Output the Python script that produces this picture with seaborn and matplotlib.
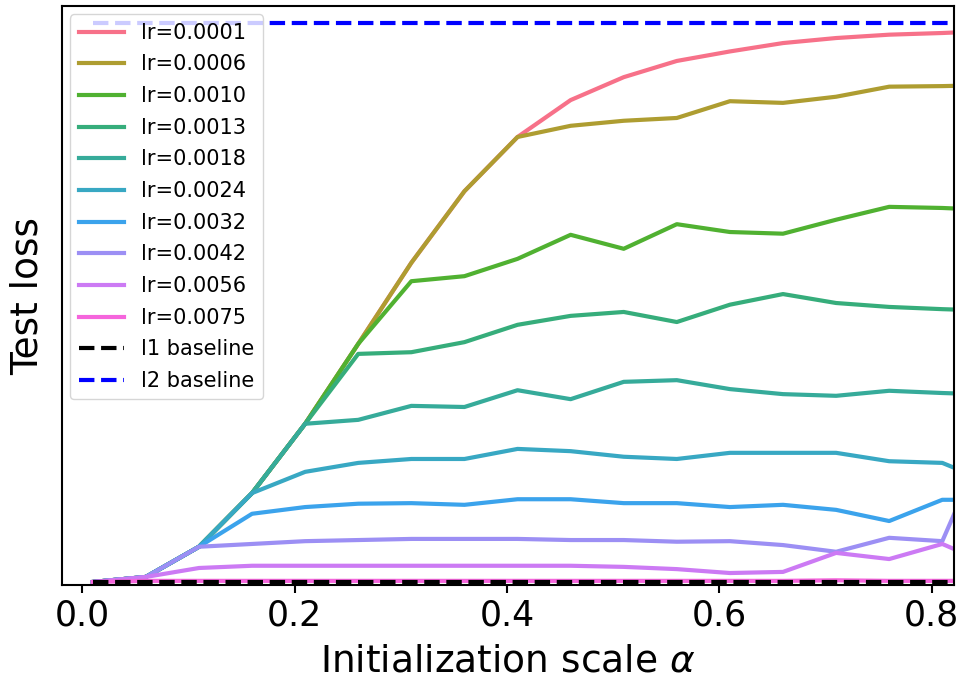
import seaborn as sns
import matplotlib.pyplot as plt
import pandas as pd

# initialization scales (last point lies just beyond the visible x range)
alphas = [0.01, 0.06, 0.11, 0.16, 0.21, 0.26, 0.31, 0.36, 0.41,
          0.46, 0.51, 0.56, 0.61, 0.66, 0.71, 0.76, 0.81, 0.86]

lr_labels = ['lr=0.0001', 'lr=0.0006', 'lr=0.0010', 'lr=0.0013', 'lr=0.0018',
             'lr=0.0024', 'lr=0.0032', 'lr=0.0042', 'lr=0.0056', 'lr=0.0075']

# test loss per learning rate (arbitrary units)
loss_0001 = [0.000, 0.009, 0.063, 0.159, 0.283, 0.426, 0.571, 0.699, 0.796,
             0.862, 0.903, 0.932, 0.949, 0.964, 0.973, 0.979, 0.982, 0.986]
loss_0006 = [0.000, 0.009, 0.063, 0.159, 0.283, 0.426, 0.571, 0.699, 0.796,
             0.816, 0.825, 0.830, 0.860, 0.857, 0.868, 0.886, 0.887, 0.889]
loss_0010 = [0.000, 0.009, 0.063, 0.159, 0.283, 0.426, 0.538, 0.547, 0.578,
             0.621, 0.596, 0.640, 0.626, 0.623, 0.648, 0.671, 0.669, 0.665]
loss_0013 = [0.000, 0.009, 0.063, 0.159, 0.283, 0.408, 0.411, 0.429, 0.460,
             0.476, 0.483, 0.465, 0.496, 0.515, 0.499, 0.492, 0.488, 0.485]
loss_0018 = [0.000, 0.009, 0.063, 0.159, 0.283, 0.290, 0.315, 0.313, 0.343,
             0.327, 0.358, 0.361, 0.345, 0.336, 0.333, 0.342, 0.338, 0.335]
loss_0024 = [0.000, 0.009, 0.063, 0.159, 0.197, 0.213, 0.220, 0.220, 0.238,
             0.234, 0.224, 0.220, 0.231, 0.231, 0.231, 0.216, 0.213, 0.174]
loss_0032 = [0.000, 0.009, 0.063, 0.122, 0.134, 0.140, 0.141, 0.138, 0.148,
             0.148, 0.141, 0.141, 0.134, 0.138, 0.129, 0.109, 0.147, 0.147]
loss_0042 = [0.000, 0.009, 0.063, 0.068, 0.073, 0.075, 0.077, 0.077, 0.077,
             0.075, 0.075, 0.072, 0.073, 0.066, 0.054, 0.079, 0.073, 0.290]
loss_0056 = [0.000, 0.009, 0.025, 0.029, 0.029, 0.029, 0.029, 0.029, 0.029,
             0.029, 0.027, 0.023, 0.016, 0.018, 0.052, 0.041, 0.068, 0.027]
loss_0075 = [0.000, 0.002, 0.002, 0.002, 0.002, 0.002, 0.002, 0.002, 0.002,
             0.002, 0.002, 0.002, 0.002, 0.002, 0.003, 0.002, 0.002, 0.002]

l1_baseline = 0.0
l2_baseline = 1.0

all_losses = [loss_0001, loss_0006, loss_0010, loss_0013, loss_0018,
              loss_0024, loss_0032, loss_0042, loss_0056, loss_0075]

rows = []
for lab, losses in zip(lr_labels, all_losses):
    for a, v in zip(alphas, losses):
        rows.append({'alpha': a, 'loss': v, 'lr': lab})
df = pd.DataFrame(rows)

# husl-like colours, picked from the figure
pal = ['#f77189', '#ae9d31', '#50b131', '#36ad7b', '#36ab9a',
       '#38a8c3', '#3ba3ec', '#9c8ff4', '#cc7af4', '#f565dc']

fig, ax = plt.subplots(figsize=(9.64, 6.85), dpi=100)
sns.lineplot(data=df, x='alpha', y='loss', hue='lr', palette=pal,
             linewidth=3, ax=ax)
sns.lineplot(x=alphas, y=[l1_baseline] * len(alphas), color='k',
             linestyle='--', linewidth=3, label='l1 baseline', ax=ax)
sns.lineplot(x=alphas, y=[l2_baseline] * len(alphas), color='b',
             linestyle='--', linewidth=3, label='l2 baseline', ax=ax)

handles, labels = ax.get_legend_handles_labels()
ax.legend(handles, labels, loc='upper left', fontsize=15, handlelength=2.2,
          labelspacing=0.56, borderaxespad=0.4)

ax.set_xlim(-0.019, 0.821)
ax.set_ylim(-0.0054, 1.030)
ax.set_yticks([])
ax.set_xticks([0.0, 0.2, 0.4, 0.6, 0.8])
ax.set_xlabel(r'Initialization scale $\alpha$', fontsize=27, labelpad=8)
ax.set_ylabel('Test loss', fontsize=27, labelpad=12)
ax.tick_params(axis='x', labelsize=25, length=6, width=1.5)
for sp in ax.spines.values():
    sp.set_linewidth(1.5)

plt.subplots_adjust(left=0.0643, right=0.9896, top=0.991, bottom=0.146)
plt.savefig('out.png', dpi=100)
